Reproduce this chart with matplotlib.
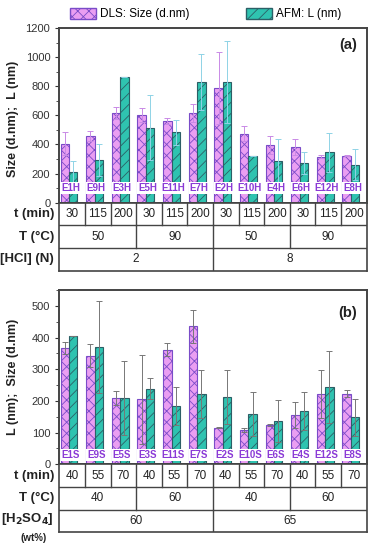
import matplotlib.pyplot as plt
from matplotlib.patches import Patch
from matplotlib.ticker import MultipleLocator
import matplotlib.transforms as mtransforms

plt.rcParams['font.family'] = ['Liberation Sans', 'DejaVu Sans']
plt.rcParams['hatch.linewidth'] = 0.6

# panel (a): HCl hydrolysis
groups_a = ['E1H', 'E9H', 'E3H', 'E5H', 'E11H', 'E7H', 'E2H', 'E10H', 'E4H', 'E6H', 'E12H', 'E8H']
dls_a = [405, 457, 617, 601, 562, 615, 789, 475, 397, 383, 317, 323]
dls_a_err = [80, 36, 40, 48, 20, 62, 248, 50, 64, 55, 12, 5]
afm_a = [210, 296, 862, 516, 484, 828, 828, 321, 289, 271, 347, 261]
afm_a_err = [75, 110, 0, 225, 85, 193, 282, 0, 150, 75, 133, 108]
t_a = ['30', '115', '200'] * 4
T_a = ['50', '90', '50', '90']
hcl_a = ['2', '8']

# panel (b): H2SO4 hydrolysis
groups_b = ['E1S', 'E9S', 'E5S', 'E3S', 'E11S', 'E7S', 'E2S', 'E10S', 'E6S', 'E4S', 'E12S', 'E8S']
dls_b = [366, 343, 208, 205, 362, 435, 116, 109, 124, 156, 222, 222]
dls_b_err = [19, 37, 22, 141, 20, 53, 3, 6, 3, 41, 75, 11]
afm_b = [404, 370, 208, 239, 184, 221, 213, 158, 137, 168, 243, 148]
afm_b_err = [0, 146, 117, 32, 59, 76, 85, 69, 67, 60, 113, 59]
t_b = ['40', '55', '70'] * 4
T_b = ['40', '60', '40', '60']
h2so4_b = ['60', '65']

DLS_FACE = '#ea9ef2'
DLS_EDGE = '#7a4cc8'
AFM_FACE = '#2fc3b0'
AFM_EDGE = '#2c5f66'
LBL = '#8a3ad6'
FRAME = '#444444'

W, H = 374, 550
fig = plt.figure(figsize=(W / 100, H / 100), dpi=100)


def box(x0, y_top, x1, y_bot):
    return [x0 / W, 1 - y_bot / H, (x1 - x0) / W, (y_bot - y_top) / H]


def bars(ax, names, dls, dls_err, afm, afm_err, ecol_d, ecol_a, lbl_y):
    x = list(range(len(names)))
    bw = 0.33
    ax.bar([i - 0.285 for i in x], dls, bw, color=DLS_FACE, edgecolor=DLS_EDGE,
           hatch='xxx', linewidth=0.8, zorder=2)
    ax.bar([i + 0.045 for i in x], afm, bw, color=AFM_FACE, edgecolor=AFM_EDGE,
           hatch='///', linewidth=0.8, zorder=2)
    ax.errorbar([i - 0.285 for i in x], dls, yerr=dls_err, fmt='none', ecolor=ecol_d,
                elinewidth=0.7, capsize=2, capthick=0.7, zorder=3)
    ax.errorbar([i + 0.045 for i in x], afm, yerr=afm_err, fmt='none', ecolor=ecol_a,
                elinewidth=0.7, capsize=2, capthick=0.7, zorder=3)
    trans = mtransforms.blended_transform_factory(ax.transData, ax.transAxes)
    for i, n in enumerate(names):
        ax.text(i - 0.06, lbl_y, n, transform=trans, ha='center', va='center',
                fontsize=7, fontweight='bold', color=LBL, zorder=4,
                bbox=dict(facecolor='white', edgecolor='none', pad=0.5))
    ax.set_xlim(-0.5, len(names) - 0.5)
    ax.set_xticks([])
    for s in ax.spines.values():
        s.set_color(FRAME)
        s.set_linewidth(1.4)
    ax.tick_params(axis='y', labelsize=8, length=3, width=0.8, colors='#333333')
    ax.tick_params(axis='y', which='minor', length=2, width=0.6, colors='#333333')


def table(ax, rows, row_labels, y_top, y_bot, extra=None):
    n = len(rows[0])
    ax.set_xlim(-0.5, n - 0.5)
    ax.set_ylim(len(rows), 0)
    ax.set_xticks([])
    ax.set_yticks([])
    for s in ax.spines.values():
        s.set_color(FRAME)
        s.set_linewidth(1.2)
    for r in range(1, len(rows)):
        ax.axhline(r, color=FRAME, lw=1.0)
    for r, vals in enumerate(rows):
        span = n / len(vals)
        for k, v in enumerate(vals):
            ax.text(-0.5 + span * (k + 0.5), r + 0.5, v, ha='center', va='center',
                    fontsize=8.5, color='#222222')
            if k > 0:
                ax.plot([-0.5 + span * k] * 2, [r, r + 1], color=FRAME, lw=1.0)
    rh = (y_bot - y_top) / len(rows)
    for r, lab in enumerate(row_labels):
        yc = y_top + rh * (r + 0.5)
        if r == 2 and extra is not None:
            yc -= 1.5
        fig.text(54 / W, 1 - yc / H, lab, ha='right', va='center', fontsize=9.5,
                 fontweight='bold', color='#222222')
    if extra is not None:
        fig.text(34 / W, 1 - (y_bot + 6) / H, extra, ha='center', va='center',
                 fontsize=7, fontweight='bold', color='#222222')


# ---- panel (a) ----
ax_a = fig.add_axes(box(59.3, 28, 366.7, 202.7))
bars(ax_a, groups_a, dls_a, dls_a_err, afm_a, afm_a_err, '#c98ae6', '#8fd3e6', 0.084)
ax_a.set_ylim(0, 1200)
ax_a.yaxis.set_major_locator(MultipleLocator(200))
ax_a.yaxis.set_minor_locator(MultipleLocator(100))
ax_a.set_ylabel('Size (d.nm);  L (nm)', fontsize=9, fontweight='bold', color='#222222')
ax_a.yaxis.set_label_coords(-0.13, 0.48)
ax_a.text(0.97, 0.9, '(a)', transform=ax_a.transAxes, ha='right', va='center',
          fontsize=10.5, fontweight='bold', color='#222222')

tab_a = fig.add_axes(box(59.3, 202.7, 366.7, 270.7))
table(tab_a, [t_a, T_a, hcl_a], ['t (min)', 'T (°C)', '[HCl] (N)'], 202.7, 270.7)

# ---- panel (b) ----
ax_b = fig.add_axes(box(59.3, 290, 366.7, 464.3))
bars(ax_b, groups_b, dls_b, dls_b_err, afm_b, afm_b_err, '#777777', '#777777', 0.053)
ax_b.set_ylim(0, 550)
ax_b.yaxis.set_major_locator(MultipleLocator(100))
ax_b.yaxis.set_minor_locator(MultipleLocator(50))
ax_b.set_ylabel('L (nm);  Size (d.nm)', fontsize=9, fontweight='bold', color='#222222')
ax_b.yaxis.set_label_coords(-0.13, 0.5)
ax_b.text(0.97, 0.87, '(b)', transform=ax_b.transAxes, ha='right', va='center',
          fontsize=10.5, fontweight='bold', color='#222222')

tab_b = fig.add_axes(box(59.3, 464.3, 366.7, 532.3))
table(tab_b, [t_b, T_b, h2so4_b], ['t (min)', 'T (°C)', r'[H$_\mathbf{2}$SO$_\mathbf{4}$]'],
      464.3, 532.3, extra='(wt%)')

# ---- legend ----
handles = [Patch(facecolor=DLS_FACE, edgecolor=DLS_EDGE, hatch='xxx', label='DLS: Size (d.nm)'),
           Patch(facecolor=AFM_FACE, edgecolor=AFM_EDGE, hatch='///', label='AFM: L (nm)')]
fig.legend(handles=handles, loc='center', bbox_to_anchor=(0.55, 1 - 14 / H), ncol=2,
           frameon=False, fontsize=8.5, handlelength=2.2, handleheight=1.1,
           columnspacing=4.8, handletextpad=0.3)

fig.savefig('out.png', dpi=100)
